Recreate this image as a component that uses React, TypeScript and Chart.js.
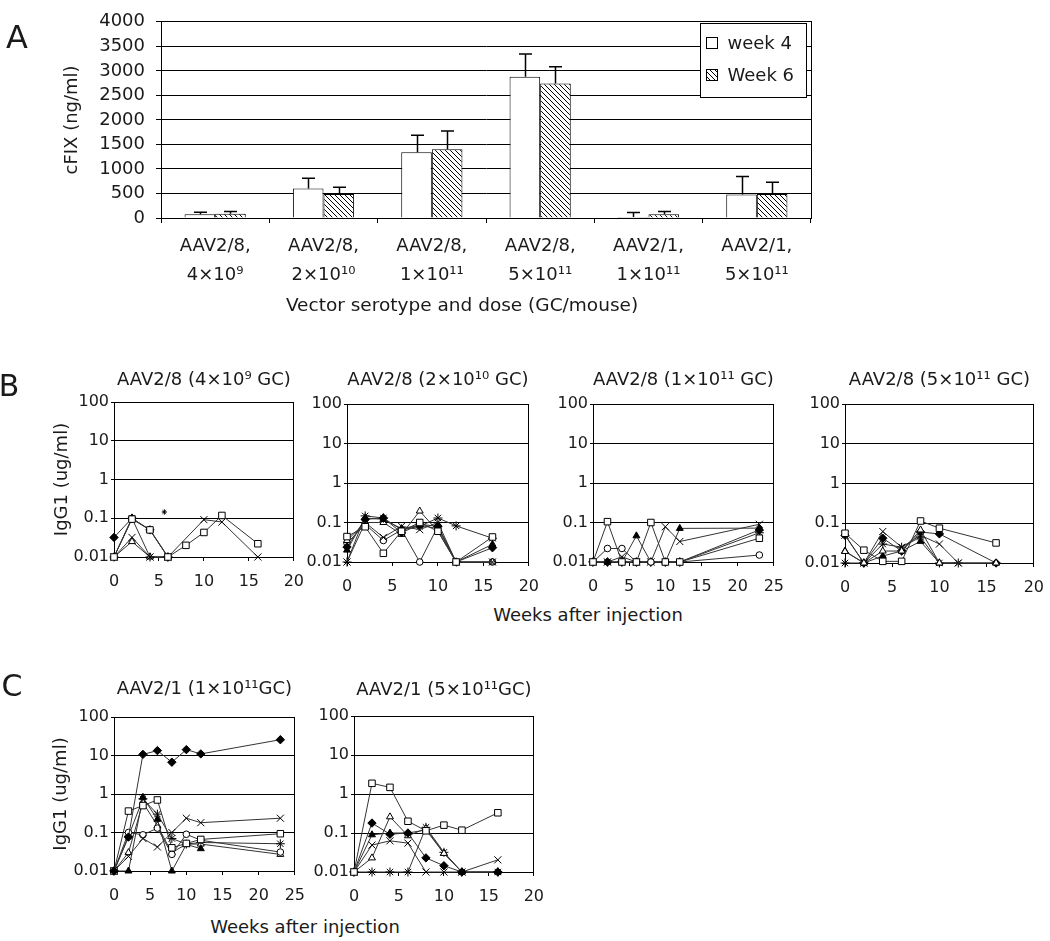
import React, { useEffect, useRef } from "react";
import { Chart, registerables } from "chart.js";

Chart.register(...registerables);

const FONT = "'DejaVu Sans', 'Liberation Sans', sans-serif";
const TEXT = "#1a1a1a";

// ---------------- Panel A data ----------------
const doseCategories = [
  ["AAV2/8,", "4×10⁹"],
  ["AAV2/8,", "2×10¹⁰"],
  ["AAV2/8,", "1×10¹¹"],
  ["AAV2/8,", "5×10¹¹"],
  ["AAV2/1,", "1×10¹¹"],
  ["AAV2/1,", "5×10¹¹"],
];
const week4Values = [75, 600, 1340, 2880, 20, 480];
const week4Errors = [40, 210, 345, 465, 90, 365];
const week6Values = [85, 490, 1400, 2740, 75, 490];
const week6Errors = [50, 135, 375, 345, 60, 240];
const cfixMax = 4000;
const cfixStep = 500;

// ---------------- Panels B / C data ----------------
const weeksShort = [0, 2, 4, 6, 8, 10, 12, 16];
const weeksLong = [0, 2, 4, 6, 8, 10, 12, 23];
const igTickValues = [0.01, 0.1, 1, 10, 100];

// B1: AAV2/8 4x10^9
const b1Square = [0.01, 0.095, 0.05, 0.01, 0.02, 0.043, 0.118, 0.022];
const b1Diamond = [0.032, 0.1, 0.05, 0.01, null, null, null, null];
const b1Triangle = [0.01, 0.1, 0.05, 0.01, null, null, null, null];
const b1Star = [0.01, 0.1, 0.01, 0.01, null, null, null, null];
const b1Cross = [0.01, 0.032, 0.01, 0.01, null, 0.092, 0.08, 0.01];
const b1OpenTriangle = [0.01, 0.025, 0.01, 0.01, null, null, null, null];
const b1AsteriskWeek = [5.6];
const b1AsteriskValue = [0.145];

// B2: AAV2/8 2x10^10
const b2Square = [0.044, 0.078, 0.0166, 0.06, 0.1, 0.06, 0.01, 0.043];
const b2Diamond = [0.024, 0.12, 0.13, 0.055, 0.09, 0.08, 0.01, 0.023];
const b2Triangle = [0.02, 0.13, 0.12, 0.07, 0.085, 0.07, 0.01, 0.028];
const b2Cross = [0.01, 0.1, 0.042, 0.08, 0.066, 0.1, 0.01, 0.01];
const b2Star = [0.01, 0.147, 0.13, 0.065, 0.08, 0.13, 0.082, 0.04];
const b2OpenTriangle = [0.035, 0.1, 0.1, 0.05, 0.195, 0.06, 0.01, 0.01];
const b2OpenCircle = [0.03, 0.09, 0.035, 0.065, 0.01, 0.08, 0.01, 0.01];

// B3: AAV2/8 1x10^11
const b3Square = [0.01, 0.105, 0.01, 0.01, 0.1, 0.01, 0.01, 0.04];
const b3OpenCircle = [0.01, 0.022, 0.022, 0.01, 0.01, 0.01, 0.01, 0.015];
const b3Triangle = [0.01, 0.01, 0.01, 0.046, 0.01, 0.01, 0.071, 0.072];
const b3Cross = [0.01, 0.01, 0.0136, 0.01, 0.01, 0.078, 0.033, 0.09];
const b3Diamond = [0.01, 0.01, 0.01, 0.01, 0.01, 0.01, 0.01, 0.065];
const b3Star = [0.01, 0.01, 0.01, 0.01, 0.01, 0.01, 0.01, 0.055];

// B4: AAV2/8 5x10^11
const b4Square = [0.056, 0.021, 0.011, 0.011, 0.114, 0.075, null, 0.032];
const b4OpenTriangle = [0.0195, 0.01, 0.02, 0.02, 0.068, 0.01, null, 0.01];
const b4Cross = [0.05, 0.01, 0.062, 0.025, 0.05, 0.03, 0.01, null];
const b4Star = [0.01, 0.01, 0.03, 0.025, 0.045, 0.01, 0.01, null];
const b4Diamond = [0.05, 0.01, 0.042, 0.02, 0.06, 0.054, null, 0.01];
const b4Triangle = [0.02, 0.01, 0.015, 0.02, 0.035, 0.01, null, 0.01];

// C1: AAV2/1 1x10^11
const c1Diamond = [0.01, 0.076, 10.7, 13.4, 6.7, 14.2, 11, 25.7];
const c1Square = [0.01, 0.36, 0.5, 0.7, 0.04, 0.052, 0.066, 0.093];
const c1Triangle = [0.01, 0.01, 0.82, 0.22, 0.01, 0.049, 0.038, null];
const c1Cross = [0.01, 0.024, 0.07, 0.042, 0.1, 0.235, 0.18, 0.235];
const c1OpenCircle = [0.01, 0.1, 0.087, 0.13, 0.027, 0.09, 0.063, 0.031];
const c1OpenTriangle = [0.01, 0.03, 0.6, 0.15, 0.03, 0.05, 0.05, 0.027];
const c1Star = [0.01, 0.08, 0.75, 0.3, 0.07, 0.05, 0.055, 0.051];

// C2: AAV2/1 5x10^11
const c2Square = [0.01, 1.88, 1.48, 0.2, 0.114, 0.159, 0.118, 0.33];
const c2Diamond = [0.01, 0.18, 0.093, 0.1, 0.023, 0.0145, 0.01, 0.01];
const c2OpenTriangle = [0.01, 0.023, 0.26, 0.085, 0.13, 0.03, 0.01, null];
const c2Cross = [0.01, 0.049, 0.063, 0.055, 0.01, 0.01, 0.01, 0.0205];
const c2Star = [0.01, 0.01, 0.01, 0.01, 0.14, 0.032, 0.01, 0.01];
const c2Triangle = [0.01, 0.09, 0.1, 0.1, 0.12, 0.03, 0.01, 0.01];

// ---------------- styles ----------------
const MARKERS: Record<string, any> = {
  diamond: { pointStyle: "rectRot", pointBackgroundColor: "#000", pointRadius: 4.2 },
  square: { pointStyle: "rect", pointBackgroundColor: "#fff", pointRadius: 4.6 },
  triangle: { pointStyle: "triangle", pointBackgroundColor: "#000", pointRadius: 4 },
  openTriangle: { pointStyle: "triangle", pointBackgroundColor: "#fff", pointRadius: 4 },
  cross: { pointStyle: "crossRot", pointBackgroundColor: "#000", pointRadius: 5 },
  star: { pointStyle: "star", pointBackgroundColor: "#000", pointRadius: 4.5 },
  openCircle: { pointStyle: "circle", pointBackgroundColor: "#fff", pointRadius: 3.3 },
};

const alignPx = (p: number) => Math.round(p - 0.5) + 0.5;

const framePlugin = {
  id: "frame",
  beforeDatasetsDraw(chart: any) {
    const { ctx, chartArea } = chart;
    const l = alignPx(chartArea.left), t = alignPx(chartArea.top);
    const r = alignPx(chartArea.right), b = alignPx(chartArea.bottom);
    ctx.save();
    ctx.strokeStyle = "#000";
    ctx.lineWidth = 1;
    ctx.strokeRect(l, t, r - l, b - t);
    ctx.restore();
  },
};

const errorBarPlugin = {
  id: "errorBars",
  afterDatasetsDraw(chart: any) {
    const { ctx } = chart;
    const yScale = chart.scales.y;
    chart.data.datasets.forEach((ds: any, i: number) => {
      const errs = ds.errorBars;
      if (!errs) return;
      const meta = chart.getDatasetMeta(i);
      meta.data.forEach((bar: any, j: number) => {
        const top = yScale.getPixelForValue(ds.data[j] + errs[j]);
        const x = Math.round(bar.x) + 0.5;
        ctx.save();
        ctx.strokeStyle = "#000";
        ctx.lineWidth = 1.5;
        ctx.beginPath();
        ctx.moveTo(x, bar.y);
        ctx.lineTo(x, top);
        ctx.moveTo(x - 6.5, top);
        ctx.lineTo(x + 6.5, top);
        ctx.stroke();
        ctx.restore();
      });
    });
  },
};

const boxLegendPlugin = {
  id: "boxLegend",
  afterDraw(chart: any) {
    const { ctx, chartArea } = chart;
    const bx = Math.round(chartArea.right) - 111 + 0.5;
    const by = Math.round(chartArea.top) + 1 + 0.5;
    const bw = 106, bh = 74;
    ctx.save();
    ctx.fillStyle = "#fff";
    ctx.fillRect(bx, by, bw, bh);
    ctx.strokeStyle = "#000";
    ctx.lineWidth = 1;
    ctx.strokeRect(bx, by, bw, bh);
    ctx.font = `18px ${FONT}`;
    ctx.textBaseline = "middle";
    ctx.textAlign = "left";
    chart.data.datasets.forEach((ds: any, i: number) => {
      const cy = Math.round(by + 19 + i * 32.5);
      ctx.fillStyle = ds.backgroundColor;
      ctx.fillRect(bx + 6, cy - 5.5, 11, 11);
      ctx.strokeStyle = "#000";
      ctx.strokeRect(bx + 6, cy - 5.5, 11, 11);
      ctx.fillStyle = TEXT;
      ctx.fillText(ds.label, bx + 27, cy + 1);
    });
    ctx.restore();
  },
};

function makeHatch() {
  const s = 5;
  const c = document.createElement("canvas");
  c.width = s;
  c.height = s;
  const g = c.getContext("2d")!;
  g.fillStyle = "#fff";
  g.fillRect(0, 0, s, s);
  g.strokeStyle = "#000";
  g.lineWidth = 1;
  g.beginPath();
  g.moveTo(-1, -1);
  g.lineTo(s + 1, s + 1);
  g.moveTo(-1, s - 1);
  g.lineTo(1, s + 1);
  g.moveTo(s - 1, -1);
  g.lineTo(s + 1, 1);
  g.stroke();
  const ctx = document.createElement("canvas").getContext("2d")!;
  return ctx.createPattern(c, "repeat");
}

// ---------------- Panel A geometry ----------------
const A_W = 830, A_H = 330;
const A_PLOT = { left: 161, top: 9, right: 811, bottom: 218 };

function makeBarConfig(): any {
  const hatch = makeHatch();
  return {
    type: "bar",
    data: {
      labels: doseCategories,
      datasets: [
        { label: "week 4", data: week4Values, errorBars: week4Errors, backgroundColor: "#fff", borderColor: "#000", borderWidth: 1 },
        { label: "Week 6", data: week6Values, errorBars: week6Errors, backgroundColor: hatch, borderColor: "#000", borderWidth: 1 },
      ],
    },
    options: {
      animation: false,
      responsive: false,
      devicePixelRatio: 1,
      layout: {
        autoPadding: false,
        padding: { left: 0, top: A_PLOT.top, right: A_W - A_PLOT.right, bottom: 0 },
      },
      datasets: { bar: { categoryPercentage: 0.565, barPercentage: 1 } },
      plugins: { legend: { display: false }, tooltip: { enabled: false }, title: { display: false } },
      scales: {
        x: {
          grid: { offset: true, drawOnChartArea: false, drawTicks: true, tickLength: 5, color: "#000" },
          border: { color: "#000" },
          ticks: { font: { family: FONT, size: 18, lineHeight: 1.65 }, color: TEXT, padding: 8, maxRotation: 0, autoSkip: false },
          afterFit: (s: any) => { s.height = A_H - A_PLOT.bottom; },
        },
        y: {
          min: 0,
          max: cfixMax,
          ticks: {
            stepSize: cfixStep,
            autoSkip: false,
            callback: (v: any) => String(v),
            font: { family: FONT, size: 18 },
            color: TEXT,
            padding: 11,
          },
          grid: { color: "#000", tickLength: 5 },
          border: { color: "#000" },
          title: { display: true, text: "cFIX (ng/ml)", font: { family: FONT, size: 18, lineHeight: 1.2 }, color: TEXT, padding: { top: 62, bottom: 0 } },
          afterFit: (s: any) => { s.width = A_PLOT.left; },
        },
      },
    },
    plugins: [framePlugin, errorBarPlugin, boxLegendPlugin],
  };
}

// ---------------- line panels ----------------
type SeriesSpec = { marker: string; values: (number | null)[] };
type PanelSpec = {
  title: string;
  weeks: number[];
  xMax: number;
  plot: { left: number; top: number; right: number; bottom: number };
  titleY: number;
  yTitleX?: number;
  series: SeriesSpec[];
  extra?: { weeks: number[]; values: number[] };
};

const TITLE_SIZE = 18;
const TITLE_LH = TITLE_SIZE * 1.2;
const YT_SIZE = 18;
const YT_LH = YT_SIZE * 1.2;
const X_AXIS_H = 40;
const RIGHT_PAD = 14;

const panels: PanelSpec[] = [
  {
    title: "AAV2/8 (4×10⁹ GC)", weeks: weeksShort, xMax: 20,
    plot: { left: 114, top: 402, right: 301, bottom: 557 }, titleY: 381, yTitleX: 63,
    series: [
      { marker: "square", values: b1Square },
      { marker: "diamond", values: b1Diamond },
      { marker: "triangle", values: b1Triangle },
      { marker: "star", values: b1Star },
      { marker: "cross", values: b1Cross },
      { marker: "openTriangle", values: b1OpenTriangle },
    ],
    extra: { weeks: b1AsteriskWeek, values: b1AsteriskValue },
  },
  {
    title: "AAV2/8 (2×10¹⁰ GC)", weeks: weeksShort, xMax: 20,
    plot: { left: 347, top: 404, right: 536, bottom: 562 }, titleY: 381,
    series: [
      { marker: "square", values: b2Square },
      { marker: "diamond", values: b2Diamond },
      { marker: "triangle", values: b2Triangle },
      { marker: "cross", values: b2Cross },
      { marker: "star", values: b2Star },
      { marker: "openTriangle", values: b2OpenTriangle },
      { marker: "openCircle", values: b2OpenCircle },
    ],
  },
  {
    title: "AAV2/8 (1×10¹¹ GC)", weeks: weeksLong, xMax: 25,
    plot: { left: 593, top: 404, right: 781, bottom: 562 }, titleY: 381,
    series: [
      { marker: "square", values: b3Square },
      { marker: "openCircle", values: b3OpenCircle },
      { marker: "triangle", values: b3Triangle },
      { marker: "cross", values: b3Cross },
      { marker: "diamond", values: b3Diamond },
      { marker: "star", values: b3Star },
    ],
  },
  {
    title: "AAV2/8 (5×10¹¹ GC)", weeks: weeksShort, xMax: 20,
    plot: { left: 845, top: 404, right: 1041, bottom: 563 }, titleY: 381,
    series: [
      { marker: "square", values: b4Square },
      { marker: "openTriangle", values: b4OpenTriangle },
      { marker: "cross", values: b4Cross },
      { marker: "star", values: b4Star },
      { marker: "diamond", values: b4Diamond },
      { marker: "triangle", values: b4Triangle },
    ],
  },
  {
    title: "AAV2/1 (1×10¹¹GC)", weeks: weeksLong, xMax: 25,
    plot: { left: 114, top: 717, right: 302, bottom: 871 }, titleY: 690, yTitleX: 62,
    series: [
      { marker: "diamond", values: c1Diamond },
      { marker: "square", values: c1Square },
      { marker: "triangle", values: c1Triangle },
      { marker: "cross", values: c1Cross },
      { marker: "openCircle", values: c1OpenCircle },
      { marker: "openTriangle", values: c1OpenTriangle },
      { marker: "star", values: c1Star },
    ],
  },
  {
    title: "AAV2/1 (5×10¹¹GC)", weeks: weeksShort, xMax: 20,
    plot: { left: 354, top: 716, right: 541, bottom: 872 }, titleY: 691,
    series: [
      { marker: "square", values: c2Square },
      { marker: "diamond", values: c2Diamond },
      { marker: "openTriangle", values: c2OpenTriangle },
      { marker: "cross", values: c2Cross },
      { marker: "star", values: c2Star },
      { marker: "triangle", values: c2Triangle },
    ],
  },
];

function panelGeometry(p: PanelSpec) {
  const canvasTop = Math.round(p.titleY - TITLE_LH / 2);
  const canvasLeft = p.yTitleX != null ? Math.round(p.yTitleX - YT_LH / 2) : p.plot.left - 50;
  const yW = p.plot.left - canvasLeft;
  const titlePad = p.plot.top - canvasTop - TITLE_LH;
  const width = p.plot.right - canvasLeft + RIGHT_PAD;
  const height = p.plot.bottom - canvasTop + X_AXIS_H;
  return { canvasTop, canvasLeft, yW, titlePad, width, height };
}

function makeLineConfig(p: PanelSpec): any {
  const g = panelGeometry(p);
  const datasets: any[] = p.series.map((s) => ({
    label: s.marker,
    data: p.weeks.map((w, i) => ({ x: w, y: s.values[i] })),
    borderColor: "#333",
    borderWidth: 1,
    pointBorderColor: "#000",
    pointBorderWidth: 1,
    spanGaps: true,
    clip: false,
    ...MARKERS[s.marker],
  }));
  if (p.extra) {
    datasets.push({
      label: "asterisk",
      data: p.extra.weeks.map((w, i) => ({ x: w, y: p.extra!.values[i] })),
      showLine: false,
      pointStyle: "star",
      pointRadius: 2.6,
      pointBorderColor: "#000",
      pointBorderWidth: 1,
      clip: false,
    });
  }
  return {
    type: "line",
    data: { datasets },
    options: {
      animation: false,
      responsive: false,
      devicePixelRatio: 1,
      layout: { autoPadding: false, padding: { left: 0, top: 0, right: RIGHT_PAD, bottom: 0 } },
      plugins: {
        legend: { display: false },
        tooltip: { enabled: false },
        title: {
          display: true,
          text: p.title,
          fullSize: false,
          color: TEXT,
          font: { family: FONT, size: TITLE_SIZE, lineHeight: 1.2, weight: "normal" },
          padding: { top: 0, bottom: g.titlePad },
        },
      },
      scales: {
        x: {
          type: "linear",
          min: 0,
          max: p.xMax,
          ticks: { stepSize: 5, font: { family: FONT, size: 16 }, color: TEXT, padding: 11, maxRotation: 0 },
          grid: { drawOnChartArea: false, drawTicks: true, tickLength: 4, color: "#000" },
          border: { color: "#000" },
          afterFit: (s: any) => { s.height = X_AXIS_H; },
        },
        y: {
          type: "logarithmic",
          min: 0.01,
          max: 100,
          afterBuildTicks: (s: any) => { s.ticks = igTickValues.map((v) => ({ value: v })); },
          ticks: { callback: (v: any) => String(Number(v)), font: { family: FONT, size: 16 }, color: TEXT, padding: 2 },
          grid: { color: "#000", tickLength: 3 },
          border: { color: "#000" },
          title: {
            display: p.yTitleX != null,
            text: "IgG1 (ug/ml)",
            color: TEXT,
            font: { family: FONT, size: YT_SIZE, lineHeight: 1.2 },
            padding: { top: 0, bottom: 0 },
          },
          afterFit: (s: any) => { s.width = g.yW; },
        },
      },
    },
    plugins: [framePlugin],
  };
}

function ChartCanvas({ left, top, width, height, make }: { left: number; top: number; width: number; height: number; make: () => any }) {
  const ref = useRef<HTMLCanvasElement>(null);
  useEffect(() => {
    const chart = new Chart(ref.current as HTMLCanvasElement, make());
    return () => chart.destroy();
  }, []);
  return (
    <canvas
      ref={ref}
      width={width}
      height={height}
      style={{ position: "absolute", left, top, width, height }}
    />
  );
}

function Label({ x, y, size, children }: { x: number; y: number; size: number; children: any }) {
  return (
    <div
      style={{
        position: "absolute",
        left: x,
        top: y,
        transform: "translate(-50%, -50%)",
        fontFamily: FONT,
        fontSize: size,
        lineHeight: 1,
        color: TEXT,
        whiteSpace: "nowrap",
      }}
    >
      {children}
    </div>
  );
}

export default function App() {
  return (
    <div style={{ position: "absolute", left: 0, top: 0, width: 1050, height: 941, background: "#fff", overflow: "hidden" }}>
      <ChartCanvas left={0} top={0} width={A_W} height={A_H} make={makeBarConfig} />
      {panels.map((p, i) => {
        const g = panelGeometry(p);
        return (
          <ChartCanvas key={i} left={g.canvasLeft} top={g.canvasTop} width={g.width} height={g.height} make={() => makeLineConfig(p)} />
        );
      })}
      <Label x={17} y={37} size={32}>A</Label>
      <Label x={9} y={386} size={30}>B</Label>
      <Label x={12} y={686} size={30}>C</Label>
      <Label x={462} y={305} size={18.5}>Vector serotype and dose (GC/mouse)</Label>
      <Label x={588} y={615} size={18}>Weeks after injection</Label>
      <Label x={305} y={927} size={18}>Weeks after injection</Label>
    </div>
  );
}
